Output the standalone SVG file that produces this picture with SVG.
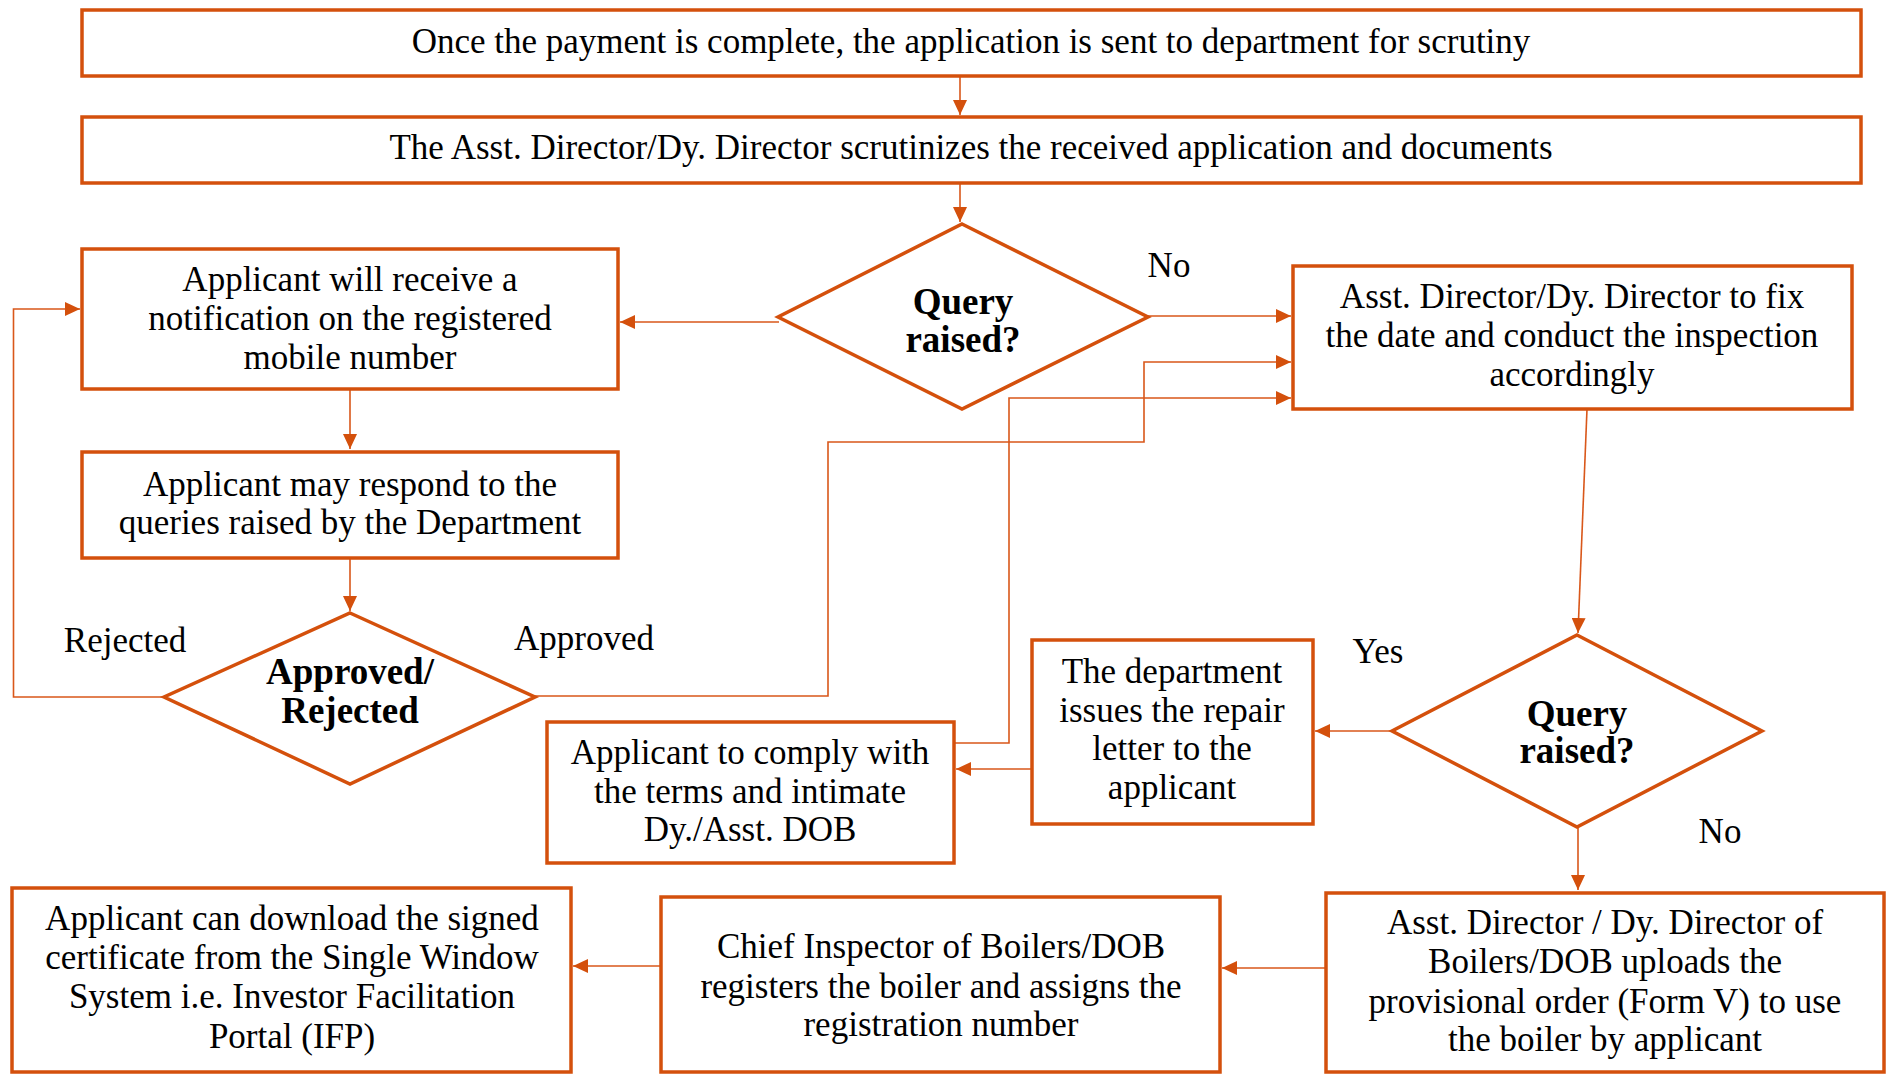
<svg xmlns="http://www.w3.org/2000/svg" width="1887" height="1075" viewBox="0 0 1887 1075">
<style>
.box{fill:#fff;stroke:#D4500C;stroke-width:3.5}
.dia{fill:#fff;stroke:#D4500C;stroke-width:3.5}
.con{fill:none;stroke:#D9571A;stroke-width:1.6}
text{font-family:"Liberation Serif","Times New Roman",serif;font-size:35px;fill:#000;text-anchor:middle}
.b{font-weight:bold;font-size:37px}
</style>
<defs>
<marker id="ah" markerUnits="userSpaceOnUse" markerWidth="16" markerHeight="14" refX="15" refY="7" orient="auto">
<path d="M0,0 L15,7 L0,14 Z" fill="#D4500C"/>
</marker>
</defs>
<rect width="1887" height="1075" fill="#fff"/>
<g id="connectors">
<path class="con" d="M960,76 V115" marker-end="url(#ah)"/>
<path class="con" d="M960,184 V222" marker-end="url(#ah)"/>
<path class="con" d="M779,322 H620" marker-end="url(#ah)"/>
<path class="con" d="M1148,316 H1291" marker-end="url(#ah)"/>
<path class="con" d="M350,389 V449" marker-end="url(#ah)"/>
<path class="con" d="M350,558 V611" marker-end="url(#ah)"/>
<path class="con" d="M164,697 H13.5 V309 H80" marker-end="url(#ah)"/>
<path class="con" d="M535,696 H828 V442 H1144 V362 H1291" marker-end="url(#ah)"/>
<path class="con" d="M954,743 H1009 V398 H1291" marker-end="url(#ah)"/>
<path class="con" d="M1587,409 L1578,633" marker-end="url(#ah)"/>
<path class="con" d="M1392,731 H1315" marker-end="url(#ah)"/>
<path class="con" d="M1032,769 H956" marker-end="url(#ah)"/>
<path class="con" d="M1578,827 V890" marker-end="url(#ah)"/>
<path class="con" d="M1326,968 H1222" marker-end="url(#ah)"/>
<path class="con" d="M661,966 H573" marker-end="url(#ah)"/>
<text x="1169" y="277">No</text>
<text x="125" y="652">Rejected</text>
<text x="584" y="650">Approved</text>
<text x="1378" y="663">Yes</text>
<text x="1720" y="843">No</text>
</g>
<g id="n1">
<rect class="box" x="82" y="10" width="1779" height="66"/>
<text x="971" y="53">Once the payment is complete, the application is sent to department for scrutiny</text>
</g>
<g id="n2">
<rect class="box" x="82" y="117" width="1779" height="66"/>
<text x="971" y="159">The Asst. Director/Dy. Director scrutinizes the received application and documents</text>
</g>
<g id="d1">
<path class="dia" d="M962,224 L1148,317 L962,409 L778,317 Z"/>
<text class="b" x="963" y="314">Query</text>
<text class="b" x="963" y="352">raised?</text>
</g>
<g id="n3">
<rect class="box" x="82" y="249" width="536" height="140"/>
<text x="350" y="291">Applicant will receive a</text>
<text x="350" y="330">notification on the registered</text>
<text x="350" y="369">mobile number</text>
</g>
<g id="n4">
<rect class="box" x="82" y="452" width="536" height="106"/>
<text x="350" y="496">Applicant may respond to the</text>
<text x="350" y="534">queries raised by the Department</text>
</g>
<g id="d2">
<path class="dia" d="M350,613 L535,697 L350,784 L164,697 Z"/>
<text class="b" x="350" y="684">Approved/</text>
<text class="b" x="350" y="723">Rejected</text>
</g>
<g id="n5">
<rect class="box" x="1293" y="266" width="559" height="143"/>
<text x="1572" y="308">Asst. Director/Dy. Director to fix</text>
<text x="1572" y="347">the date and conduct the inspection</text>
<text x="1572" y="386">accordingly</text>
</g>
<g id="d3">
<path class="dia" d="M1577,635 L1762,731 L1577,827 L1392,731 Z"/>
<text class="b" x="1577" y="726">Query</text>
<text class="b" x="1577" y="763">raised?</text>
</g>
<g id="n6">
<rect class="box" x="1032" y="640" width="281" height="184"/>
<text x="1172" y="683">The department</text>
<text x="1172" y="722">issues the repair</text>
<text x="1172" y="760">letter to the</text>
<text x="1172" y="799">applicant</text>
</g>
<g id="n7">
<rect class="box" x="547" y="722" width="407" height="141"/>
<text x="750" y="764">Applicant to comply with</text>
<text x="750" y="803">the terms and intimate</text>
<text x="750" y="841">Dy./Asst. DOB</text>
</g>
<g id="n8">
<rect class="box" x="1326" y="893" width="558" height="179"/>
<text x="1605" y="934">Asst. Director / Dy. Director of</text>
<text x="1605" y="973">Boilers/DOB uploads the</text>
<text x="1605" y="1013">provisional order (Form V) to use</text>
<text x="1605" y="1051">the boiler by applicant</text>
</g>
<g id="n9">
<rect class="box" x="661" y="897" width="559" height="175"/>
<text x="941" y="958">Chief Inspector of Boilers/DOB</text>
<text x="941" y="998">registers the boiler and assigns the</text>
<text x="941" y="1036">registration number</text>
</g>
<g id="n10">
<rect class="box" x="12" y="888" width="559" height="184"/>
<text x="292" y="930">Applicant can download the signed</text>
<text x="292" y="969">certificate from the Single Window</text>
<text x="292" y="1008">System i.e. Investor Facilitation</text>
<text x="292" y="1048">Portal (IFP)</text>
</g>
</svg>
